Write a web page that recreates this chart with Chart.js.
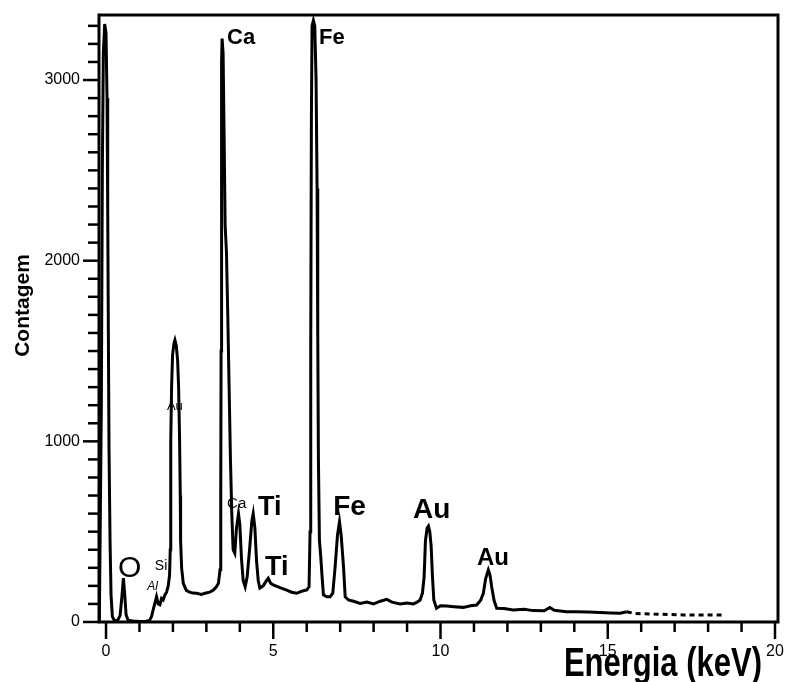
<!DOCTYPE html>
<html>
<head>
<meta charset="utf-8">
<title>Espectro EDS</title>
<script src="https://cdn.jsdelivr.net/npm/chart.js@4.4.1/dist/chart.umd.min.js"></script>
<style>
  body { margin: 0; background: #fff; }
  #wrap { width: 785px; height: 682px; position: relative; }
</style>
</head>
<body>
<div id="wrap"><canvas id="eds-chart"></canvas></div>
<script>
var energia = [
    -0.2, -0.14, -0.11, -0.08, -0.04, 0.0, 0.03, 0.05, 0.07, 0.09, 0.12, 0.15, 0.19, 0.25,
    0.35, 0.42, 0.47, 0.52, 0.56, 0.6, 0.66, 0.8, 1.0, 1.2, 1.3,
    1.36, 1.42, 1.47, 1.51, 1.56, 1.61, 1.66, 1.71, 1.76, 1.81, 1.86, 1.9,
    1.92, 1.93, 1.94, 1.96, 1.99, 2.03, 2.06, 2.1, 2.14, 2.17, 2.2, 2.22, 2.23, 2.26, 2.31,
    2.4, 2.5, 2.6, 2.71, 2.85, 2.96, 3.1, 3.21, 3.3, 3.36,
    3.41, 3.43, 3.44, 3.45, 3.46, 3.47, 3.5, 3.53, 3.56, 3.6, 3.64, 3.68, 3.72, 3.76,
    3.8, 3.85, 3.9, 3.96, 4.0, 4.05, 4.1, 4.16, 4.22, 4.3, 4.36, 4.4, 4.45, 4.5, 4.55, 4.6,
    4.7, 4.8, 4.85, 4.92, 5.0, 5.2, 5.4, 5.55, 5.7, 5.85, 6.0, 6.07,
    6.1, 6.12, 6.14, 6.16, 6.2, 6.24, 6.28, 6.31, 6.33, 6.35, 6.38, 6.42, 6.46, 6.5,
    6.6, 6.7, 6.78, 6.85, 6.92, 6.98, 7.03, 7.1, 7.15, 7.25,
    7.4, 7.6, 7.8, 8.0, 8.2, 8.39, 8.55, 8.79, 9.0, 9.19, 9.3, 9.39,
    9.46, 9.51, 9.55, 9.6, 9.64, 9.68, 9.72, 9.76, 9.8, 9.88,
    10.0, 10.18, 10.4, 10.68, 10.9, 11.08, 11.2, 11.28, 11.35, 11.43, 11.48, 11.53, 11.6, 11.68,
    11.9, 12.17, 12.5, 12.77, 13.1, 13.27, 13.4, 13.77, 14.07, 14.4, 14.77, 15.1, 15.37, 15.57,
    15.8, 16.26, 16.8, 17.26, 17.9, 18.46
];
var contagem = [
    0, 1200, 2500, 3150, 3310, 3260, 2900, 2300, 1600, 950, 450, 150, 30, 8,
    10, 35, 130, 243, 150, 40, 10, 5, 3, 4, 8,
    30, 75, 110, 140, 100, 95, 130, 122, 150, 165, 200, 260,
    400, 700, 1000, 1300, 1480, 1540, 1560, 1530, 1450, 1300, 1000, 700, 450, 300, 214,
    175, 165, 160, 159, 152, 159, 165, 177, 195, 214,
    290, 700, 1500, 2500, 3100, 3230, 3150, 2700, 2200, 2050, 1700, 1300, 900, 600,
    400, 380, 520, 600, 540, 350, 230, 195, 250, 420, 560, 600, 520, 340, 230, 188,
    200, 230, 242, 215, 205, 190, 177, 165, 159, 170, 177, 195,
    500, 1500, 2800, 3300, 3330, 3300, 3000, 2400, 1600, 900, 450, 360, 250, 150,
    140, 140, 160, 306, 480, 555, 480, 306, 140, 122,
    115, 103, 110, 100, 115, 125, 110, 100, 105, 100, 110, 122,
    160, 250, 450, 520, 531, 500, 420, 250, 122, 76,
    90, 89, 85, 81, 90, 94, 120, 159, 240, 288, 260, 195, 120, 76,
    75, 66, 70, 63, 62, 80, 65, 57, 57, 55, 52, 50, 48, 57,
    47, 44, 42, 39, 39, 39
];

// rótulos dos elementos e onde ficam (keV, contagem)
var elementos = ['Ca', 'Fe', 'Ti', 'Fe', 'Au', 'Au', 'Ti', 'O', 'Ca', 'Si', 'Al', 'Au'];
var elementoE = [3.62, 6.37, 4.54, 6.79, 9.18, 11.09, 4.75, 0.36, 3.62, 1.46, 1.23, 1.82];
var elementoC = [3199, 3199, 592, 592, 576, 315, 260, 249, 631, 288, 177, 1173];
var elementoFonte = ['bold 22px', 'bold 22px', 'bold 27px', 'bold 28px', 'bold 28px', 'bold 24px',
    'bold 27px', '30px', '15px', '14px', 'italic 12px', '13px'];

var xTicks = [0, 5, 10, 15, 20];
var yTicks = [0, 1000, 2000, 3000];

var fonte = "'Liberation Sans', Arial, sans-serif";

function montaPontos() {
    var pts = [];
    for (var i = 0; i < energia.length; i++) {
        pts.push({ x: energia[i], y: contagem[i] });
    }
    return pts;
}

// tira o espaço extra que o Chart.js reserva para os rótulos das pontas
function semPadding(scale) {
    scale.paddingTop = 0;
    scale.paddingBottom = 0;
    scale.paddingLeft = 0;
    scale.paddingRight = 0;
}

// moldura, marcas dos eixos, rótulos e títulos
var desenhoExtra = {
    id: 'desenhoExtra',
    afterDatasetsDraw: function(chart) {
        var ctx = chart.ctx;
        var a = chart.chartArea;
        var sx = chart.scales.x;
        var sy = chart.scales.y;
        ctx.save();
        ctx.strokeStyle = '#000';
        ctx.lineWidth = 3;
        ctx.strokeRect(a.left, a.top, a.right - a.left, a.bottom - a.top);

        ctx.lineWidth = 2.5;
        sx.ticks.forEach(function(t) {
            var px = sx.getPixelForValue(t.value);
            var len = xTicks.indexOf(t.value) >= 0 ? 17 : 10;
            ctx.beginPath();
            ctx.moveTo(px, a.bottom);
            ctx.lineTo(px, a.bottom + len);
            ctx.stroke();
        });
        sy.ticks.forEach(function(t) {
            var py = sy.getPixelForValue(t.value);
            var len = yTicks.indexOf(t.value) >= 0 ? 16 : 11;
            ctx.beginPath();
            ctx.moveTo(a.left, py);
            ctx.lineTo(a.left - len, py);
            ctx.stroke();
        });

        ctx.fillStyle = '#000';
        ctx.textAlign = 'left';
        ctx.textBaseline = 'alphabetic';
        for (var i = 0; i < elementos.length; i++) {
            ctx.font = elementoFonte[i] + ' ' + fonte;
            ctx.fillText(elementos[i], sx.getPixelForValue(elementoE[i]), sy.getPixelForValue(elementoC[i]));
        }

        // títulos dos eixos
        ctx.font = 'bold 21px ' + fonte;
        ctx.textAlign = 'center';
        ctx.textBaseline = 'middle';
        ctx.save();
        ctx.translate(23, (a.top + a.bottom) / 2 - 13);
        ctx.rotate(-Math.PI / 2);
        ctx.fillText('Contagem', 0, 0);
        ctx.restore();

        ctx.font = 'bold 31px ' + fonte;
        ctx.textAlign = 'right';
        ctx.textBaseline = 'alphabetic';
        ctx.save();
        ctx.translate(a.right - 16, chart.height - 6);
        ctx.scale(1, 1.3);
        ctx.fillText('Energia (keV)', 0, 0);
        ctx.restore();
        ctx.restore();
    }
};

var chartEDS = new Chart(document.querySelector('#eds-chart'), {
    type: 'line',
    data: {
        datasets: [{
            label: 'Contagem',
            data: montaPontos(),
            borderColor: '#000',
            borderWidth: 3,
            pointRadius: 0,
            tension: 0,
            fill: false,
            segment: {
                borderDash: function(c) { return c.p0.parsed.x >= 15.5 ? [5, 4] : undefined; }
            }
        }]
    },
    options: {
        responsive: true,
        maintainAspectRatio: false,
        animation: false,
        layout: { padding: { top: 15, right: 7, left: 0, bottom: 0 } },
        plugins: {
            legend: { display: false },
            tooltip: { enabled: false }
        },
        scales: {
            x: {
                type: 'linear',
                min: -0.21,
                max: 20.09,
                grid: { display: false, drawTicks: false },
                border: { display: false },
                afterBuildTicks: function(scale) {
                    scale.ticks = scale.ticks.filter(function(t) { return Number.isInteger(t.value); });
                },
                afterFit: function(scale) { scale.height = 60; semPadding(scale); },
                ticks: {
                    stepSize: 1,
                    includeBounds: false,
                    autoSkip: false,
                    maxRotation: 0,
                    padding: 20,
                    color: '#000',
                    font: { family: fonte, size: 16 },
                    callback: function(v) { return xTicks.indexOf(v) >= 0 ? String(v) : ''; }
                }
            },
            y: {
                min: 0,
                max: 3360,
                grid: { display: false, drawTicks: false },
                border: { display: false },
                afterBuildTicks: function(scale) {
                    scale.ticks = scale.ticks.filter(function(t) { return t.value % 100 === 0; });
                },
                afterFit: function(scale) { scale.width = 99; semPadding(scale); },
                ticks: {
                    stepSize: 100,
                    includeBounds: false,
                    autoSkip: false,
                    padding: 19,
                    color: '#000',
                    font: { family: fonte, size: 16 },
                    callback: function(v) { return yTicks.indexOf(v) >= 0 ? String(v) : ''; }
                }
            }
        }
    },
    plugins: [desenhoExtra]
});
</script>
</body>
</html>
